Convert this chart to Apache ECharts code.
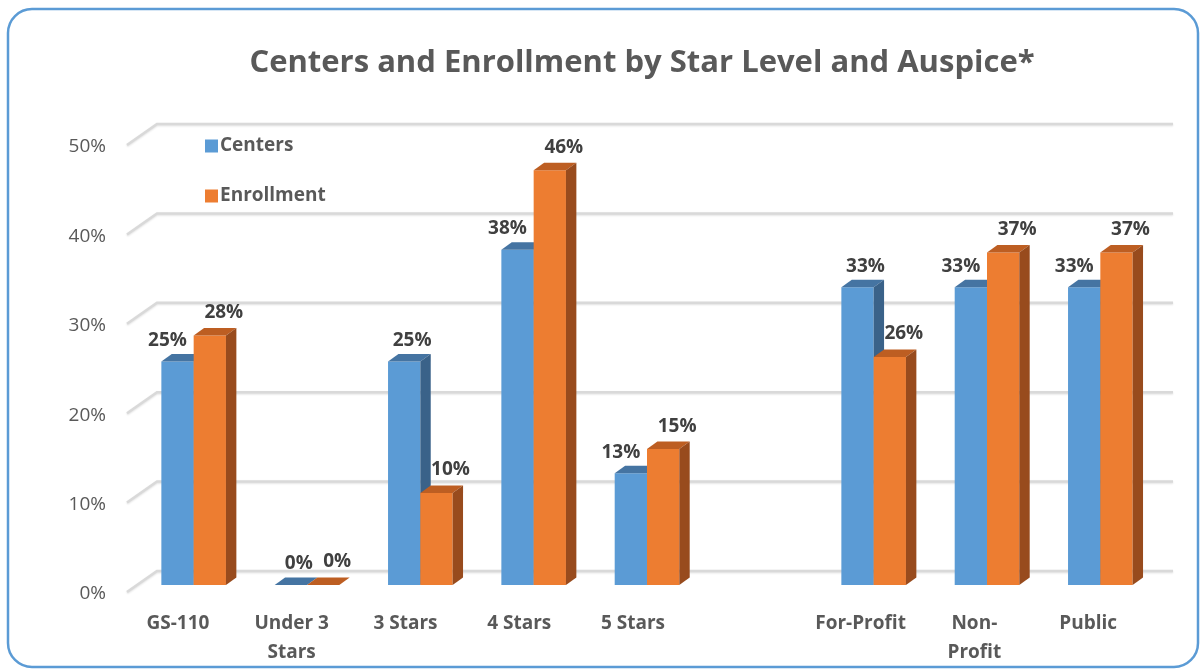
<!DOCTYPE html>
<html>
<head>
<meta charset="utf-8">
<script src="https://cdn.jsdelivr.net/npm/echarts@6/dist/echarts.min.js"></script>
<style>
html,body{margin:0;padding:0;background:#fff;}
#chart{width:1200px;height:669px;}
</style>
</head>
<body>
<div id="chart"></div>
<script>
var categories = ['GS-110', 'Under 3\nStars', '3 Stars', '4 Stars', '5 Stars', '', 'For-Profit', 'Non-\nProfit', 'Public'];
var centers = [25, 0, 25, 37.5, 12.5, null, 33.3, 33.3, 33.3];
var enrollment = [27.9, 0, 10.3, 46.4, 15.2, null, 25.5, 37.2, 37.2];
var yTicks = [0, 10, 20, 30, 40, 50];
var seriesNames = ['Centers', 'Enrollment'];

var FONT = '"Open Sans", Lato, sans-serif';
var faces = [
  {front: '#5B9BD5', top: '#4574A2', side: '#3A6289'},
  {front: '#ED7D31', top: '#BD5E22', side: '#984B1D'}
];
var DX = 10.4, DY = 7.5;

function barRender(si) {
  return function (params, api) {
    var idx = api.value(0);
    var val = api.value(1);
    if (val == null || isNaN(val)) return;
    var base = api.coord([idx, 0]);
    var top = api.coord([idx, val]);
    var band = api.size([1, 0])[0];
    var w = band * 0.285;
    var xF = si === 0 ? base[0] - w : base[0];
    var yT = top[1], yB = base[1];
    var f = faces[si];
    var other = si === 0 ? enrollment[idx] : centers[idx];
    var lx, ly;
    if (si === 0) {
      lx = xF + w / 2 + (val >= other ? 8 : -10);
      ly = yT - 21;
    } else {
      lx = xF + w / 2 + 14;
      ly = yT - 23;
    }
    return {
      type: 'group',
      children: [
        {type: 'rect', shape: {x: xF, y: yT, width: w, height: yB - yT}, style: {fill: f.front}},
        {type: 'polygon', shape: {points: [[xF, yT], [xF + DX, yT - DY], [xF + w + DX, yT - DY], [xF + w, yT]]}, style: {fill: f.top}},
        {type: 'polygon', shape: {points: [[xF + w, yT], [xF + w + DX, yT - DY], [xF + w + DX, yB - DY], [xF + w, yB]]}, style: {fill: f.side}},
        {type: 'text', x: lx, y: ly, style: {text: Math.round(val) + '%', fill: '#404040', font: 'bold 19px ' + FONT, align: 'center', verticalAlign: 'middle'}}
      ]
    };
  };
}

function gridRender(params, api) {
  var v = api.value(1);
  var p = api.coord([0, v]);
  var yb = p[1];
  var yBack = yb - 14, yFront = yb + 7;
  return {
    type: 'polyline',
    shape: {points: [[127, yFront], [157, yBack], [1173, yBack]]},
    style: {stroke: '#D9D9D9', lineWidth: 2.5, fill: null, shadowColor: 'rgba(0,0,0,0.12)', shadowBlur: 2, shadowOffsetY: 1}
  };
}

var chart = echarts.init(document.getElementById('chart'), null, {renderer: 'canvas'});
chart.setOption({
  backgroundColor: '#fff',
  animation: false,
  title: {
    text: 'Centers and Enrollment by Star Level and Auspice*',
    left: 637, top: 43, textAlign: 'center',
    textStyle: {fontFamily: FONT, fontWeight: 'bold', fontSize: 31, color: '#595959'}
  },
  legend: {
    orient: 'vertical', left: 200, top: 131, itemGap: 30,
    itemWidth: 13, itemHeight: 13, icon: 'rect',
    data: seriesNames,
    textStyle: {fontFamily: FONT, fontWeight: 'bold', fontSize: 19, color: '#595959', lineHeight: 20, padding: [0, 0, 0, -3]}
  },
  graphic: [{
    type: 'rect', shape: {x: 8, y: 9, width: 1190, height: 658, r: 24},
    style: {fill: null, stroke: '#5B9BD5', lineWidth: 2.5}, z: 100
  }],
  grid: [
    {left: 137, width: 1020, top: 138, height: 447},
    {left: 114, width: 1000, top: 147, height: 447},
    {left: 121, width: 1024, top: 591, height: 10}
  ],
  xAxis: [
    {type: 'category', gridIndex: 0, data: categories, show: false},
    {type: 'value', gridIndex: 1, show: false},
    {type: 'category', gridIndex: 2, data: categories,
      axisLine: {show: false}, axisTick: {show: false},
      axisLabel: {margin: 8, fontFamily: FONT, fontWeight: 'bold', fontSize: 19, lineHeight: 29, color: '#595959', interval: 0}}
  ],
  yAxis: [
    {type: 'value', gridIndex: 0, min: 0, max: 50, interval: 10, show: false},
    {type: 'value', gridIndex: 1, min: 0, max: 50, interval: 10,
      axisLine: {show: false}, axisTick: {show: false}, splitLine: {show: false},
      axisLabel: {formatter: '{value}%', margin: 8, fontFamily: FONT, fontSize: 19, color: '#595959'}},
    {type: 'value', gridIndex: 2, show: false}
  ],
  series: [
    {type: 'custom', name: 'grid', xAxisIndex: 0, yAxisIndex: 0, silent: true, z: 1,
      renderItem: gridRender, data: yTicks.map(function (v) { return [0, v]; })},
    {type: 'custom', name: seriesNames[0], xAxisIndex: 0, yAxisIndex: 0, z: 2,
      itemStyle: {color: faces[0].front},
      renderItem: barRender(0),
      data: centers.map(function (v, i) { return [i, v == null ? '-' : v]; })},
    {type: 'custom', name: seriesNames[1], xAxisIndex: 0, yAxisIndex: 0, z: 3,
      itemStyle: {color: faces[1].front},
      renderItem: barRender(1),
      data: enrollment.map(function (v, i) { return [i, v == null ? '-' : v]; })}
  ]
});
</script>
</body>
</html>
